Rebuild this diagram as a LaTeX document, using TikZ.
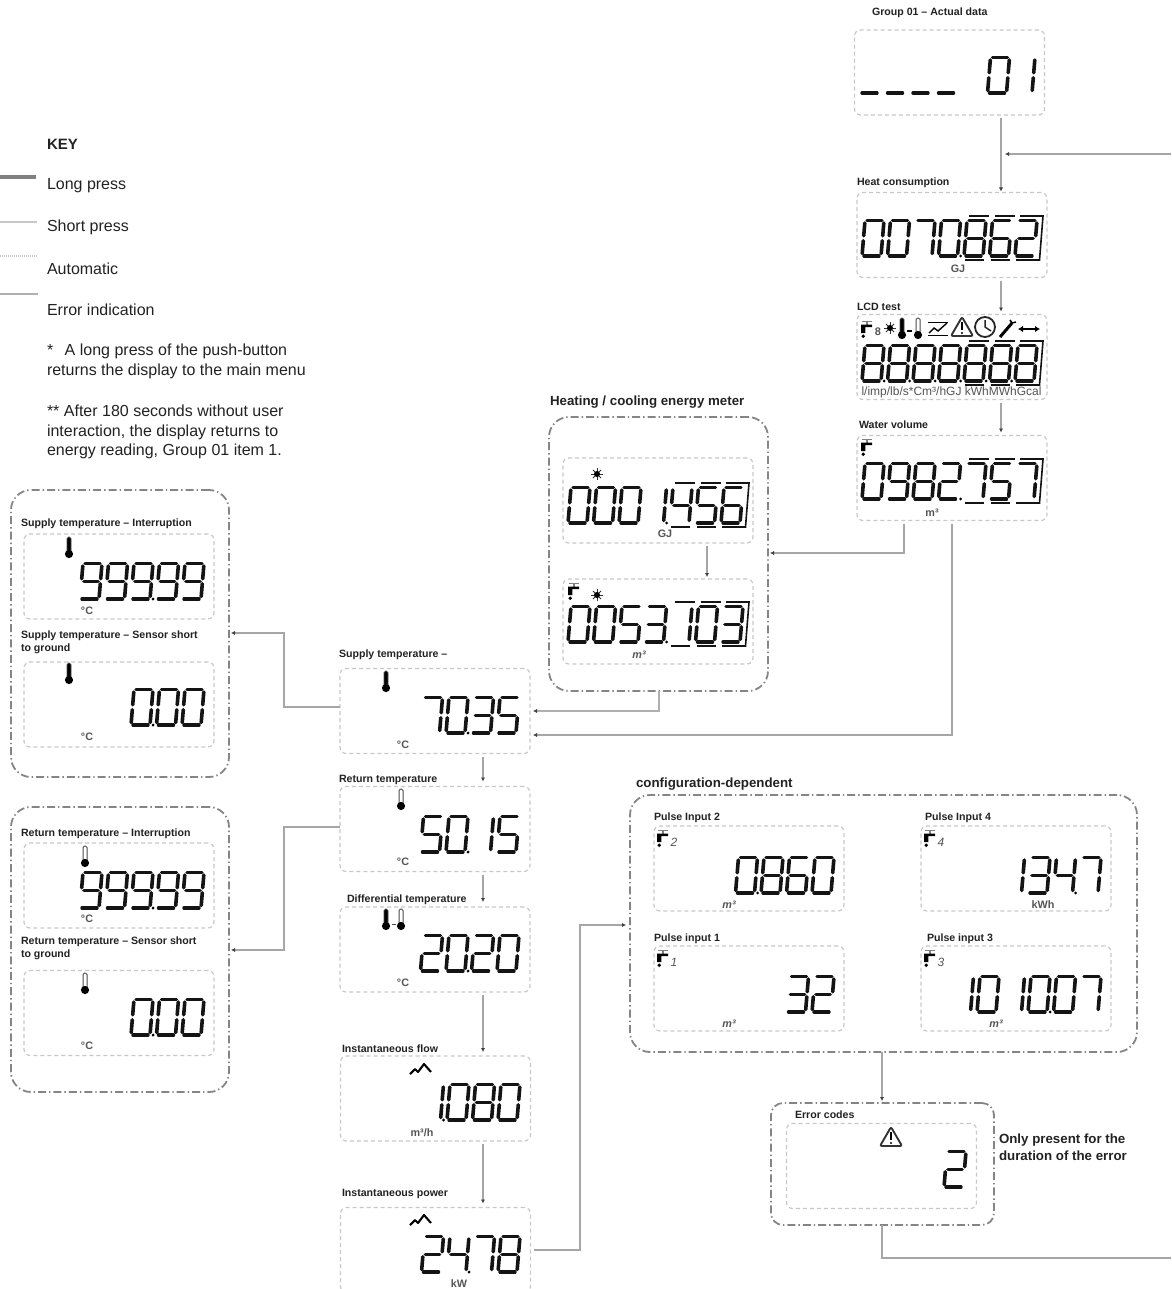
\documentclass[tikz,border=0pt]{standalone}
\usepackage{fontspec}
\setmainfont{Liberation Sans}
\usetikzlibrary{arrows.meta,calc}
\definecolor{lineg}{HTML}{A6A6A6}
\definecolor{linet}{HTML}{B0B0B0}
\definecolor{boxg}{HTML}{C8C8C8}
\definecolor{grpg}{HTML}{858585}
\definecolor{lblc}{HTML}{222222}
\definecolor{unitc}{HTML}{555555}
\tikzset{
  lcdbox/.style={draw=boxg,line width=1.2pt,dash pattern=on 4pt off 3pt,rounded corners=6pt,
    minimum width=190,minimum height=85,inner sep=0,outer sep=0},
  grpbox/.style={draw=grpg,line width=1.8pt,dash pattern=on 8pt off 3pt on 1.4pt off 3pt,rounded corners=20pt,inner sep=0,outer sep=0},
  conn/.style={draw=lineg,line width=1.5pt,shorten <=3pt},
  connt/.style={draw=linet,line width=2.4pt},
  tiph/.style={-{Latex[length=4pt,width=4.2pt,color=black!75]}},
  lblb/.style={anchor=west,inner sep=0,outer sep=0,text=lblc,align=left,yshift=-1pt,font=\bfseries\fontsize{10.6}{13}\selectfont},
  lblbig/.style={anchor=west,inner sep=0,outer sep=0,text=lblc,align=left,yshift=-.5pt,font=\bfseries\fontsize{13.3}{16.8}\selectfont},
  keyt/.style={anchor=west,inner sep=0,outer sep=0,text=lblc,align=left,yshift=-1pt,font=\fontsize{16}{19.8}\selectfont},
  unitt/.style={inner sep=0,outer sep=0,text=unitc,font=\bfseries\fontsize{10.8}{12}\selectfont},
  unititt/.style={inner sep=0,outer sep=0,text=unitc,font=\bfseries\itshape\fontsize{10.8}{12}\selectfont},
  sidx/.style={inner sep=0,outer sep=0,text=unitc,font=\itshape\fontsize{12}{12}\selectfont},
  lcdsegh/.style={line width=3.2pt,draw=black!92,line cap=round},
  lcdsegv/.style={line width=3.6pt,draw=black!92,line cap=round},
  lcdbar/.style={line width=2.2pt,draw=black!92},
}
\makeatletter
\newcommand\LA{\draw[lcdsegh] (.1,1)--(.9,1);}
\newcommand\LB{\draw[lcdsegv] (1,.93)--(1,.57);}
\newcommand\LC{\draw[lcdsegv] (1,.43)--(1,.07);}
\newcommand\LD{\draw[lcdsegh] (.1,0)--(.9,0);}
\newcommand\LE{\draw[lcdsegv] (0,.43)--(0,.07);}
\newcommand\LF{\draw[lcdsegv] (0,.93)--(0,.57);}
\newcommand\LG{\draw[lcdsegh] (.12,.5)--(.88,.5);}
\newcommand\lcd@begin{\begin{scope}[shift={(\lcd@x,\lcd@y)},x={(19pt,0pt)},y={(3pt,35.5pt)}]}
\newcommand\lcd@end{\end{scope}\pgfmathsetmacro\lcd@x{\lcd@x+25.5}}
\newcommand\lcddef[2]{\expandafter\def\csname lcdd@#1\endcsname{\lcd@begin#2\lcd@end}}
\lcddef{0}{\LA\LB\LC\LD\LE\LF}
\lcddef{1}{\LB\LC}
\lcddef{2}{\LA\LB\LG\LE\LD}
\lcddef{3}{\LA\LB\LG\LC\LD}
\lcddef{4}{\LF\LG\LB\LC}
\lcddef{5}{\LA\LF\LG\LC\LD}
\lcddef{6}{\LA\LF\LG\LE\LC\LD}
\lcddef{7}{\LA\LB\LC}
\lcddef{8}{\LA\LB\LC\LD\LE\LF\LG}
\lcddef{9}{\LA\LB\LC\LD\LF\LG}
\lcddef{u}{\LD}
\lcddef{x}{}
\expandafter\def\csname lcdd@.\endcsname{\fill[black] (\lcd@x-3.4,\lcd@y) circle (1.6);}
\newcommand\lcd[3]{\pgfmathsetmacro\lcd@x{#1+5}\def\lcd@y{#2}\@tfor\lcd@c:=#3\do{\csname lcdd@\lcd@c\endcsname}}
% bars and bracket round the three decimals
\newcommand\lcdframe[2]{%
  \begin{scope}[shift={(#1+107,#2)}]
    \foreach \k in {0,25.5,51}{%
      \draw[lcdbar] (\k+5,-40)--(\k+25,-40);
      \draw[lcdbar] (\k+1,4)--(\k+20,4);}
    \draw[lcdbar,line width=1.6pt] (76,-40)--(79,-40)--(75.5,4)--(71,4);
  \end{scope}}
\makeatother
\newcommand\thermoF[2]{\begin{scope}[shift={(#1,#2)}]
  \draw[draw=black!70,fill=black,line width=.6pt,rounded corners=1.5pt] (-2,0) rectangle (2,15);
  \fill[black] (0,17) circle (4.1);\end{scope}}
\newcommand\thermoH[2]{\begin{scope}[shift={(#1,#2)}]
  \draw[draw=black!70,fill=white,line width=1pt,rounded corners=1.5pt] (-2,0) rectangle (2,15);
  \fill[black] (0,17) circle (4.1);\end{scope}}
\newcommand\tapicon[2]{\begin{scope}[shift={(#1,#2)}]
  \draw[gray,line width=1.1pt] (1,1.2)--(11,1.2) (6,1.2)--(6,5);
  \fill[black] (0,4.5)--(11,4.5)--(11,7.2)--(4.4,7.2)--(4.4,13)--(0,13)--cycle;
  \fill[black] (2.2,16.2) circle (1.9);\end{scope}}
\newcommand\snowicon[2]{\begin{scope}[shift={(#1,#2)}]
  \foreach \a in {0,45,...,315}{\draw[black!80,line width=.9pt] (0,0)--(\a:5.8);}
  \fill[black] (0,0) circle (3);\end{scope}}
\newcommand\zigicon[2]{\begin{scope}[shift={(#1,#2)}]
  \draw[black,line width=2.1pt,line join=round] (0,11)--(5,6)--(8,9)--(14,1)--(21,9);\end{scope}}
\newcommand\warnicon[2]{\begin{scope}[shift={(#1,#2)}]
  \draw[black!80,line width=1.9pt,rounded corners=2pt] (0,0)--(11,19)--(-11,19)--cycle;
  \draw[black,line width=2.4pt] (0,5)--(0,13);\fill[black] (0,16) circle (1.2);\end{scope}}
\begin{document}
\begin{tikzpicture}[x=1pt,y=-1pt]
\useasboundingbox (0,0) rectangle (1171,1289);
% ---------- KEY
\node[keyt,font=\bfseries\fontsize{15}{18}\selectfont] (keyhead) at (47,143.5) {KEY};
\coordinate (k1a) at (0,177); \coordinate (k1b) at (36,177);
\coordinate (k2a) at (0,222); \coordinate (k2b) at (37,222);
\coordinate (k3a) at (0,256); \coordinate (k3b) at (38,256);
\coordinate (k4a) at (0,294); \coordinate (k4b) at (38,294);
\draw[draw=black!50,line width=3.4pt] (k1a)--(k1b);
\draw[draw=boxg,line width=2.4pt] (k2a)--(k2b);
\draw[draw=boxg,line width=1.2pt,dash pattern=on 1pt off 1pt] (k3a)--(k3b);
\draw[draw=linet,line width=2.2pt] (k4a)--(k4b);
\node[keyt] (klong) at (47,185) {Long press};
\node[keyt] (kshort) at (47,226) {Short press};
\node[keyt] (kauto) at (47,268) {Automatic};
\node[keyt] (kerr) at (47,309) {Error indication};
\node[keyt] (knote1) at (47,360) {*\hspace{.72em}A long press of the push-button\\returns the display to the main menu};
\node[keyt] (knote2) at (47,431) {**\hspace{.28em}After 180 seconds without user\\interaction, the display returns to\\energy reading, Group 01 item 1.};
% ---------- right column
\node[lcdbox] (gone) at (949.5,72.5) {};
\node[lcdbox] (heat) at (952,235) {};
\node[lcdbox] (lcdtest) at (952,357) {};
\node[lcdbox] (water) at (952,478) {};
\node[lblb] (tgone) at (872,11.5) {Group 01 – Actual data};
\node[lblb] (theat) at (857,182) {Heat consumption};
\node[lblb] (tlcd) at (857,306) {LCD test};
\node[lblb] (twater) at (859,424) {Water volume};
\lcd{855}{93}{uuuux01}
\lcd{857}{256}{0070.862}\lcdframe{857}{256}
\node[unitt] (ugj1) at (958,269) {GJ};
\lcd{857}{381}{8.8.8.8.8.8.8}\lcdframe{857}{381}
\node[unitt,font=\fontsize{12}{12}\selectfont] (uall) at (951.5,392) {l/imp/lb/s*Cm³/hGJ kWhMWhGcal};
\tapicon{861}{320}
\node[sidx,font=\bfseries\fontsize{11}{11}\selectfont] (l8) at (878,332) {8};
\snowicon{890}{328}
\thermoF{902}{318}\draw[black,line width=1.2pt] (907,331)--(912,331);\thermoH{918}{318}
\begin{scope}[shift={(928,322)}]
 \draw[black,line width=1pt] (0,0)--(20,0) (0,13)--(20,13);
 \draw[black,line width=1.4pt] (1,11)--(6,6)--(10,9)--(19,1);
\end{scope}
\warnicon{962}{317}
\draw[black!85,line width=1.8pt] (985,327) circle (10);
\draw[black!85,line width=1.5pt] (985,320)--(985,327)--(991,331);
\draw[black,line width=3pt] (1000,337)--(1012,323);
\draw[black,line width=1.5pt] (1010,320)--(1012,323)--(1016,322);
\draw[black,line width=2.4pt,<->,>={Latex[length=5pt,width=6.5pt]}] (1018,329)--(1040,329);
\lcd{857}{499}{0982.757}\lcdframe{857}{499}
\tapicon{861}{438}
\node[unitt] (um1) at (932,513) {m³};
% ---------- heating group
\node[grpbox,minimum width=219,minimum height=274] (heating) at (658.5,554) {};
\node[lcdbox] (hone) at (658,500.5) {};
\node[lcdbox] (htwo) at (658,621.5) {};
\node[lblbig] (theating) at (550,402) {Heating / cooling energy meter};
\lcd{563}{523}{0001.456}\lcdframe{563}{523}
\snowicon{597}{474}
\node[unitt] (ugj2) at (665,534) {GJ};
\lcd{563}{642}{0053.103}\lcdframe{563}{642}
\tapicon{568}{582}\snowicon{597}{595}
\node[unititt] (um2) at (639,655) {m³};
% ---------- left groups
\node[grpbox,minimum width=218,minimum height=287] (lgone) at (120,633.5) {};
\node[lcdbox] (loa) at (119,576.5) {};
\node[lcdbox] (lob) at (119,704.5) {};
\node[lblb] (tloa) at (21,523) {Supply temperature – Interruption};
\node[lblb] (tlob) at (21,641.5) {Supply temperature – Sensor short\\to ground};
\lcd{24}{599}{xx999.99}\thermoF{69}{537}
\lcd{24}{725}{xxxx0.00}\thermoF{69}{663}
\node[unitt] (uc1) at (87,611) {°C};
\node[unitt] (uc2) at (87,737) {°C};
\node[grpbox,minimum width=218,minimum height=285] (lgtwo) at (120,949.5) {};
\node[lcdbox] (lta) at (119,885.5) {};
\node[lcdbox] (ltb) at (119,1013) {};
\node[lblb] (tlta) at (21,833) {Return temperature – Interruption};
\node[lblb] (tltb) at (21,947.5) {Return temperature – Sensor short\\to ground};
\lcd{24}{908}{xx999.99}\thermoH{85}{846}
\lcd{24}{1035}{xxxx0.00}\thermoH{85}{973}
\node[unitt] (uc3) at (87,919) {°C};
\node[unitt] (uc4) at (87,1046) {°C};
% ---------- centre column
\node[lcdbox] (supply) at (435,711) {};
\node[lcdbox] (return) at (435,829) {};
\node[lcdbox] (diff) at (435,949.5) {};
\node[lcdbox] (flow) at (435.5,1098.5) {};
\node[lcdbox] (power) at (435.5,1250) {};
\node[lblb] (tsupply) at (339,654) {Supply temperature –};
\node[lblb] (treturn) at (339,779) {Return temperature};
\node[lblb] (tdiff) at (347,899) {Differential temperature};
\node[lblb] (tflow) at (342,1048) {Instantaneous flow};
\node[lblb] (tpower) at (342,1193) {Instantaneous power};
\lcd{339}{733}{xxx70.35}\thermoF{386}{671}
\lcd{339}{852}{xxx50.15}\thermoH{401}{789}
\lcd{339}{971}{xxx20.20}\thermoF{386}{909}\draw[black!70,line width=1pt] (392,924)--(396,924);\thermoH{401}{909}
\lcd{340}{1120}{xxx1.080}\zigicon{410}{1063}
\lcd{340}{1272}{xxx24.78}\zigicon{410}{1214}
\node[unitt] (uc5) at (403,745) {°C};
\node[unitt] (uc6) at (403,862) {°C};
\node[unitt] (uc7) at (403,983) {°C};
\node[unitt] (umh) at (422,1133) {m³/h};
\node[unitt] (ukw) at (459,1284) {kW};
% ---------- configuration group
\node[grpbox,minimum width=507,minimum height=257] (config) at (883.5,923.5) {};
\node[lblbig] (tconfig) at (636,784) {configuration-dependent};
\node[lcdbox] (pa) at (749,868.5) {};
\node[lcdbox] (pb) at (1016,868.5) {};
\node[lcdbox] (pc) at (749,988.5) {};
\node[lcdbox] (pd) at (1016,988.5) {};
\node[lblb] (tpa) at (654,817) {Pulse Input 2};
\node[lblb] (tpb) at (925,817) {Pulse Input 4};
\node[lblb] (tpc) at (654,938) {Pulse input 1};
\node[lblb] (tpd) at (927,938) {Pulse input 3};
\lcd{654}{893}{xxx0.860}\tapicon{657}{829}\node[sidx] (s2) at (674,842) {2};
\lcd{921}{893}{xxx134.7}\tapicon{924}{829}\node[sidx] (s4) at (941,842) {4};
\lcd{654}{1012}{xxxxx32}\tapicon{657}{949}\node[sidx] (s1) at (674,962) {1};
\lcd{921}{1012}{x1010.07}\tapicon{924}{949}\node[sidx] (s3) at (941,962) {3};
\node[unititt] (up2) at (729,905) {m³};
\node[unitt] (up4) at (1043,905) {kWh};
\node[unititt] (up1) at (729,1024) {m³};
\node[unititt] (up3) at (996,1024) {m³};
% ---------- error group
\node[grpbox,minimum width=223,minimum height=122,rounded corners=12pt] (errgrp) at (882.5,1164) {};
\node[lcdbox] (errbox) at (881.5,1166) {};
\node[lblb] (terr) at (795,1114) {Error codes};
\node[lblbig] (tonly) at (999,1146.5) {Only present for the\\duration of the error};
\lcd{786}{1187}{xxxxxx2}
\warnicon{891}{1127}
% ---------- connectors
\coordinate (ax) at (1001,0);
\coordinate (rtop) at (1171,154);
\coordinate (rbot) at (1171,1258);
\draw[conn,tiph,shorten >=1pt] (gone.south -| ax) -- (heat.north -| ax);
\draw[conn,tiph,shorten <=0pt,shorten >=4pt] (rtop) -- (ax |- rtop);
\draw[conn,tiph,shorten >=3pt] (heat.south -| ax) -- (lcdtest.north -| ax);
\draw[conn,tiph,shorten >=3pt] (lcdtest.south -| ax) -- (water.north -| ax);
\coordinate (c1) at (904,553);
\draw[conn,tiph,shorten >=2pt] (water.south -| c1) -- (c1) -- (heating.east |- c1);
\coordinate (c2) at (952,735);
\draw[conn,tiph,shorten >=3pt] (water.south -| c2) -- (c2) -- (supply.east |- c2);
\coordinate (c3) at (659,711);
\draw[connt,tiph,shorten >=3pt] (heating.south -| c3) -- (c3) -- (supply.east |- c3);
\coordinate (h0) at (707,0);
\draw[conn,tiph,shorten >=2pt] (hone.south -| h0) -- (htwo.north -| h0);
\coordinate (c4a) at (284,707); \coordinate (c4b) at (284,633);
\draw[conn,shorten <=0pt,tiph,shorten >=2pt] (supply.west |- c4a) -- (c4a) -- (c4b) -- (lgone.east |- c4b);
\coordinate (c5a) at (284,827); \coordinate (c5b) at (284,950);
\draw[conn,shorten <=0pt,tiph,shorten >=2pt,line width=1.8pt] (return.west |- c5a) -- (c5a) -- (c5b) -- (lgtwo.east |- c5b);
\coordinate (c6) at (483,0);
\draw[conn,tiph,shorten >=5pt] (supply.south -| c6) -- (return.north -| c6);
\draw[conn,tiph,shorten >=5pt] (return.south -| c6) -- (diff.north -| c6);
\draw[conn,tiph,shorten >=4pt] (diff.south -| c6) -- (flow.north -| c6);
\draw[conn,tiph,shorten >=4pt] (flow.south -| c6) -- (power.north -| c6);
\coordinate (c7a) at (580,1250); \coordinate (c7b) at (580,925);
\draw[conn,tiph,shorten >=4pt] (power.east |- c7a) -- (c7a) -- (c7b) -- (config.west |- c7b);
\coordinate (c8) at (882,0);
\draw[conn,shorten <=0pt,tiph,shorten >=2pt] (config.south -| c8) -- (errgrp.north -| c8);
\coordinate (c9) at (882,1258);
\draw[conn,shorten <=0pt] (errgrp.south -| c9) -- (c9) -- (rbot);
\end{tikzpicture}
\end{document}
